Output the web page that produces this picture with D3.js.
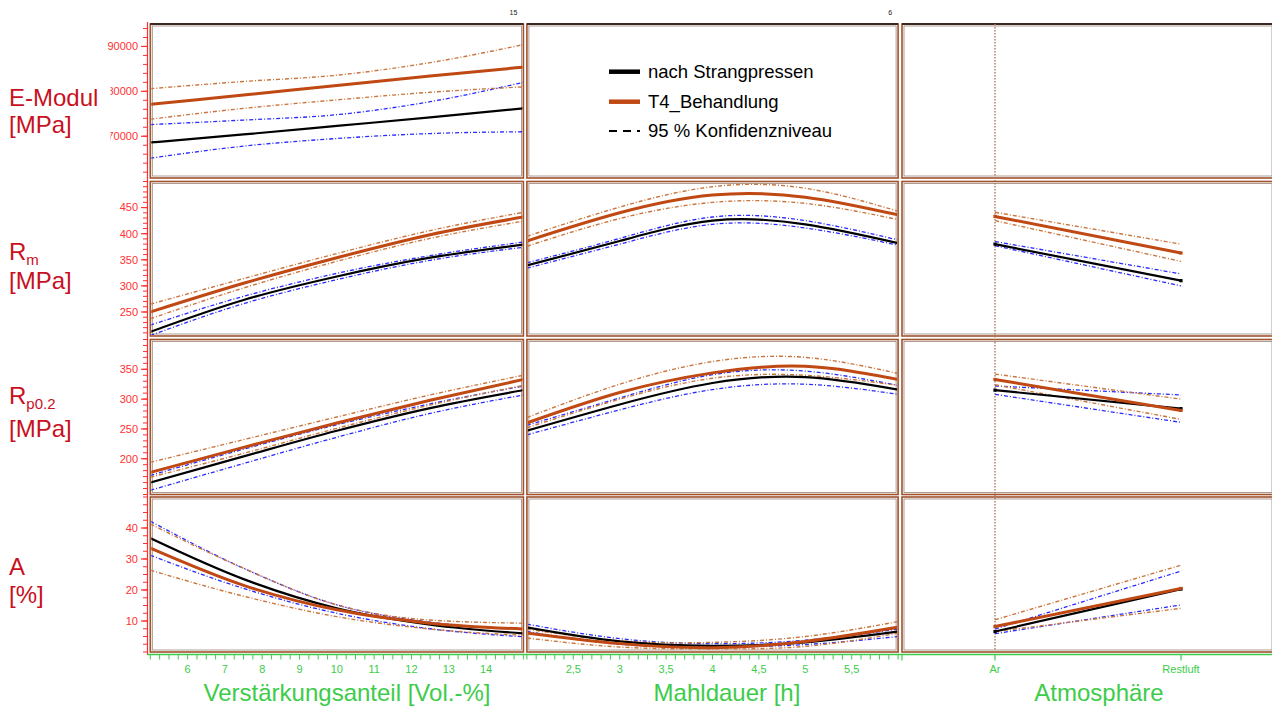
<!DOCTYPE html>
<html><head><meta charset="utf-8">
<script src="https://cdn.jsdelivr.net/npm/d3@7"></script>
<style>
body{margin:0;background:#fff}
svg{display:block}
text{font-family:"Liberation Sans",Arial,Helvetica,sans-serif}
</style>
</head><body>
<svg id="c" width="1272" height="707"></svg>
<script>
// ---------- data ----------
const volX = [5, 7.5, 10, 12.5, 15];          // Verstärkungsanteil [Vol.-%]
const mahlX = [2, 3, 4, 5, 6];                // Mahldauer [h]
const atmCats = ["Ar", "Restluft"];           // Atmosphäre

const volTicks = [6, 7, 8, 9, 10, 11, 12, 13, 14];
const mahlTicks = [2.5, 3, 3.5, 4, 4.5, 5, 5.5];
const mahlTickLabels = ["2,5", "3", "3,5", "4", "4,5", "5", "5,5"];

const eTicks = [70000, 80000, 90000];
const rmTicks = [250, 300, 350, 400, 450];
const rpTicks = [200, 250, 300, 350];
const aTicks = [10, 20, 30, 40];

const seriesNames = ["nach Strangpressen", "T4_Behandlung", "95 % Konfidenzniveau"];
const colTitles = ["Verstärkungsanteil [Vol.-%]", "Mahldauer [h]", "Atmosphäre"];

// E-Modul vs Vol.-%
const eVol = {
  sp:   [68600, 70400, 72300, 74200, 76200],
  spLo: [65100, 67800, 69500, 70600, 71000],
  spHi: [72600, 73600, 74800, 77700, 82000],
  t4:   [77100, 79200, 81300, 83400, 85400],
  t4Lo: [73800, 76200, 78100, 79800, 81000],
  t4Hi: [80600, 82200, 83600, 86400, 90400]
};
// Rm vs Vol.-%
const rmVol = {
  sp:   [212, 273, 318, 354, 379],
  spLo: [205, 266, 312, 349, 374],
  spHi: [225, 280, 324, 358, 384],
  t4:   [250, 305, 354, 398, 432],
  t4Lo: [237, 296, 347, 391, 424],
  t4Hi: [265, 314, 362, 406, 441]
};
// Rp0.2 vs Vol.-%
const rpVol = {
  sp:   [160, 204, 247, 285, 315],
  spLo: [147, 192, 236, 276, 307],
  spHi: [172, 216, 257, 292, 322],
  t4:   [177, 219, 260, 298, 333],
  t4Lo: [169, 209, 251, 290, 323],
  t4Hi: [194, 232, 270, 307, 340]
};
// A vs Vol.-%
const aVol = {
  sp:   [36.7, 23.5, 14.1, 8.8, 6.0],
  spLo: [31.2, 20.5, 12.5, 7.5, 4.9],
  spHi: [42.2, 27.0, 15.2, 9.6, 7.4],
  t4:   [33.5, 21.5, 13.6, 9.3, 7.4],
  t4Lo: [26.4, 18.0, 11.4, 7.4, 5.4],
  t4Hi: [41.3, 27.0, 15.2, 10.3, 9.3]
};
// Rm vs Mahldauer
const rmMahl = {
  sp:   [339, 386, 425, 418, 382],
  spLo: [334, 380, 418, 411, 378],
  spHi: [344, 391, 432, 425, 388],
  t4:   [386, 440, 474, 470, 436],
  t4Lo: [376, 429, 460, 458, 427],
  t4Hi: [395, 451, 490, 487, 443]
};
// Rp0.2 vs Mahldauer
const rpMahl = {
  sp:   [247, 291, 327, 337, 316],
  spLo: [240, 282, 316, 325, 308],
  spHi: [256, 302, 341, 347, 323],
  t4:   [260, 311, 344, 355, 333],
  t4Lo: [252, 300, 335, 340, 323],
  t4Hi: [269, 325, 363, 370, 343]
};
// A vs Mahldauer
const aMahl = {
  sp:   [7.9, 3.4, 2.0, 3.1, 6.6],
  spLo: [6.6, 2.5, 1.6, 2.4, 5.0],
  spHi: [9.0, 4.3, 2.7, 3.8, 7.4],
  t4:   [6.1, 2.7, 1.4, 3.4, 8.0],
  t4Lo: [4.5, 1.6, 1.0, 1.8, 6.1],
  t4Hi: [7.4, 3.6, 3.1, 5.0, 9.8]
};
// Rm / Rp0.2 / A vs Atmosphäre
const rmAtm = { sp: [380, 310], spLo: [377, 300], spHi: [385, 323], t4: [433, 363], t4Lo: [425, 347], t4Hi: [441, 380] };
const rpAtm = { sp: [315, 284], spLo: [308, 261], spHi: [322, 307], t4: [333, 281], t4Lo: [324, 266], t4Hi: [342, 300] };
const aAtm  = { sp: [6.6, 20.3], spLo: [5.9, 15.2], spHi: [7.4, 26.1], t4: [8.2, 20.5], t4Lo: [6.6, 14.1], t4Hi: [10.4, 28.0] };

// ---------- layout ----------
const svg = d3.select("#c");
const C_BLACK = "#000", C_T4 = "#bf4813", C_T4CI = "#c9763f", C_BLUE = "#2a2aff";
const C_FRAME = "#a0522d", C_RED = "#ff3030", C_TITLE = "#c8101e", C_GREEN = "#3dcc4a";

const colScales = [
  d3.scaleLinear().domain([5, 15]).range([150.3, 523.4]),
  d3.scaleLinear().domain([2, 6]).range([526.9, 898.1]),
  d3.scalePoint().domain(atmCats).range([902, 1274]).padding(0.5)
];
const colCurves = [d3.curveMonotoneX, d3.curveNatural, d3.curveLinear];
const colRanges = [[150.3, 523.4], [526.9, 898.1], [902, 1274]];
const rowScales = [
  d3.scaleLinear().domain([60700, 95000]).range([178, 24]),
  d3.scaleLinear().domain([204, 500]).range([336, 181.5]),
  d3.scaleLinear().domain([140, 400]).range([494.5, 339.5]),
  d3.scaleLinear().domain([0, 50]).range([652, 497])
];
const rowMinor = [2000, 10, 10, 2.5];
const rowTicks = [eTicks, rmTicks, rpTicks, aTicks];

// frames
const defs = svg.append("defs");
for (let r = 0; r < 4; r++) {
  for (let c = 0; c < 3; c++) {
    const [x0, x1] = colRanges[c];
    const [y1, y0] = rowScales[r].range();
    svg.append("rect").attr("x", x0).attr("y", y0).attr("width", x1 - x0).attr("height", y1 - y0)
      .attr("fill", "#fff").attr("stroke", C_FRAME).attr("stroke-width", 1.6);
    svg.append("rect").attr("x", x0 + 2).attr("y", y0 + 2).attr("width", x1 - x0 - 4).attr("height", y1 - y0 - 4)
      .attr("fill", "none").attr("stroke", "#9a8478").attr("stroke-width", 0.8);
    if (r === 0) {
      svg.append("line").attr("x1", x0).attr("x2", x1).attr("y1", y0).attr("y2", y0)
        .attr("stroke", "#111").attr("stroke-width", 1.4);
    }
    defs.append("clipPath").attr("id", `clip${r}${c}`).append("rect")
      .attr("x", x0 + 1).attr("y", y0 + 1).attr("width", x1 - x0 - 2).attr("height", y1 - y0 - 2);
  }
}

// dotted vertical reference line at Ar
svg.append("line")
  .attr("x1", colScales[2]("Ar")).attr("x2", colScales[2]("Ar"))
  .attr("y1", 24).attr("y2", 651)
  .attr("stroke", "#b07a5a").attr("stroke-width", 1.4).attr("stroke-dasharray", "1.5,1.5");

// ---------- curves ----------
const panels = [
  { r: 0, c: 0, xs: volX, d: eVol },
  { r: 1, c: 0, xs: volX, d: rmVol }, { r: 1, c: 1, xs: mahlX, d: rmMahl }, { r: 1, c: 2, xs: atmCats, d: rmAtm },
  { r: 2, c: 0, xs: volX, d: rpVol }, { r: 2, c: 1, xs: mahlX, d: rpMahl }, { r: 2, c: 2, xs: atmCats, d: rpAtm },
  { r: 3, c: 0, xs: volX, d: aVol },  { r: 3, c: 1, xs: mahlX, d: aMahl },  { r: 3, c: 2, xs: atmCats, d: aAtm }
];
const styles = [
  { k: "spHi", color: C_BLUE, w: 1.3, dash: "4,2,1,2" },
  { k: "spLo", color: C_BLUE, w: 1.3, dash: "4,2,1,2" },
  { k: "t4Hi", color: C_T4CI, w: 1.4, dash: "4,2,1,2" },
  { k: "t4Lo", color: C_T4CI, w: 1.4, dash: "4,2,1,2" },
  { k: "sp", color: C_BLACK, w: 2.2, dash: null },
  { k: "t4", color: C_T4, w: 3, dash: null }
];
panels.forEach(p => {
  const xsc = colScales[p.c], ysc = rowScales[p.r];
  const g = svg.append("g").attr("clip-path", `url(#clip${p.r}${p.c})`);
  const line = d3.line().x(d => xsc(d[0])).y(d => ysc(d[1])).curve(colCurves[p.c]);
  styles.forEach(s => {
    const pts = p.xs.map((x, i) => [x, p.d[s.k][i]]);
    g.append("path").attr("d", line(pts)).attr("fill", "none")
      .attr("stroke", s.color).attr("stroke-width", s.w)
      .attr("stroke-dasharray", s.dash);
    if (p.c === 2 && (s.k === "sp" || s.k === "t4")) {
      g.selectAll(null).data(pts).enter().append("rect")
        .attr("x", d => xsc(d[0]) - 1.6).attr("y", d => ysc(d[1]) - 1.6)
        .attr("width", 3.2).attr("height", 3.2).attr("fill", s.color);
    }
  });
});

// ---------- legend ----------
const legY = [71.7, 101.7, 131];
const lg = svg.append("g");
[[C_BLACK, 4.5, null], [C_T4, 4.5, null], [C_BLACK, 2, "8,6"]].forEach((st, i) => {
  lg.append("line").attr("x1", 609).attr("x2", 640).attr("y1", legY[i]).attr("y2", legY[i])
    .attr("stroke", st[0]).attr("stroke-width", st[1]).attr("stroke-dasharray", st[2]);
  lg.append("text").attr("x", 648).attr("y", legY[i] + 6).attr("font-size", 18.5)
    .attr("fill", "#000").text(seriesNames[i]);
});

// ---------- y axes ----------
const ax = svg.append("g");
ax.append("line").attr("x1", 147.5).attr("x2", 147.5).attr("y1", 22).attr("y2", 655)
  .attr("stroke", C_RED).attr("stroke-width", 1.2);
rowScales.forEach((ys, r) => {
  const [lo, hi] = ys.domain();
  const step = rowMinor[r];
  const minor = d3.range(Math.ceil(lo / step) * step, hi + 1e-9, step);
  ax.selectAll(null).data(minor).enter().append("line")
    .attr("x1", 143).attr("x2", 147.5).attr("y1", d => ys(d)).attr("y2", d => ys(d))
    .attr("stroke", C_RED).attr("stroke-width", 1);
  ax.selectAll(null).data(rowTicks[r]).enter().append("line")
    .attr("x1", 141).attr("x2", 147.5).attr("y1", d => ys(d)).attr("y2", d => ys(d))
    .attr("stroke", C_RED).attr("stroke-width", 1.2);
  ax.selectAll(null).data(rowTicks[r]).enter().append("text")
    .attr("x", 138).attr("y", d => ys(d)).attr("dy", "0.35em").attr("text-anchor", "end")
    .attr("font-size", 11).attr("fill", C_RED).text(d => d);
});

// white label box over the E-Modul axis title area
svg.append("rect").attr("x", 0).attr("y", 84).attr("width", 110.5).attr("height", 56).attr("fill", "#fff");

// y titles
function title(lines) {
  lines.forEach(l => {
    const t = svg.append("text").attr("x", 9).attr("y", l.y).attr("font-size", 24).attr("fill", C_TITLE);
    t.append("tspan").text(l.main);
    if (l.sub) t.append("tspan").attr("font-size", 15).attr("dy", 5).text(l.sub);
  });
}
title([{ y: 106, main: "E-Modul" }, { y: 133, main: "[MPa]" }]);
title([{ y: 260, main: "R", sub: "m" }, { y: 289, main: "[MPa]" }]);
title([{ y: 404, main: "R", sub: "p0.2" }, { y: 437, main: "[MPa]" }]);
title([{ y: 575, main: "A" }, { y: 603, main: "[%]" }]);

// ---------- x axes ----------
const xAxisY = 654.5;
ax.append("line").attr("x1", 147.5).attr("x2", 1272).attr("y1", xAxisY).attr("y2", xAxisY)
  .attr("stroke", C_GREEN).attr("stroke-width", 1.6);
const minor1 = d3.range(5, 15.0001, 0.25);
const minor2 = d3.range(2, 6.0001, 0.1);
ax.selectAll(null).data(minor1).enter().append("line")
  .attr("x1", d => colScales[0](d)).attr("x2", d => colScales[0](d))
  .attr("y1", xAxisY).attr("y2", xAxisY + 5).attr("stroke", C_GREEN).attr("stroke-width", 1);
ax.selectAll(null).data(minor2).enter().append("line")
  .attr("x1", d => colScales[1](d)).attr("x2", d => colScales[1](d))
  .attr("y1", xAxisY).attr("y2", xAxisY + 5).attr("stroke", C_GREEN).attr("stroke-width", 1);
ax.selectAll(null).data([colRanges[2][0], ...atmCats.map(d => colScales[2](d))]).enter().append("line")
  .attr("x1", d => d).attr("x2", d => d)
  .attr("y1", xAxisY).attr("y2", xAxisY + 6).attr("stroke", C_GREEN).attr("stroke-width", 1.2);

ax.selectAll(null).data(volTicks).enter().append("text")
  .attr("x", d => colScales[0](d)).attr("y", 673).attr("text-anchor", "middle")
  .attr("font-size", 11).attr("fill", C_GREEN).text(d => d);
ax.selectAll(null).data(mahlTicks).enter().append("text")
  .attr("x", d => colScales[1](d)).attr("y", 673).attr("text-anchor", "middle")
  .attr("font-size", 11).attr("fill", C_GREEN).text((d, i) => mahlTickLabels[i]);
ax.selectAll(null).data(atmCats).enter().append("text")
  .attr("x", d => colScales[2](d)).attr("y", 673).attr("text-anchor", "middle")
  .attr("font-size", 11).attr("fill", C_GREEN).text(d => d);

const titleX = [347, 727, 1099];
colTitles.forEach((t, i) => {
  svg.append("text").attr("x", titleX[i]).attr("y", 701).attr("text-anchor", "middle")
    .attr("font-size", 24).attr("fill", C_GREEN).text(t);
});

// tiny top labels
svg.append("text").attr("x", colScales[0](15) - 10).attr("y", 15).attr("text-anchor", "middle")
  .attr("font-size", 7).attr("font-family", "Liberation Serif, serif").attr("fill", "#222").text("15");
svg.append("text").attr("x", colScales[1](6) - 8).attr("y", 15).attr("text-anchor", "middle")
  .attr("font-size", 7).attr("font-family", "Liberation Serif, serif").attr("fill", "#222").text("6");
</script>
</body></html>
